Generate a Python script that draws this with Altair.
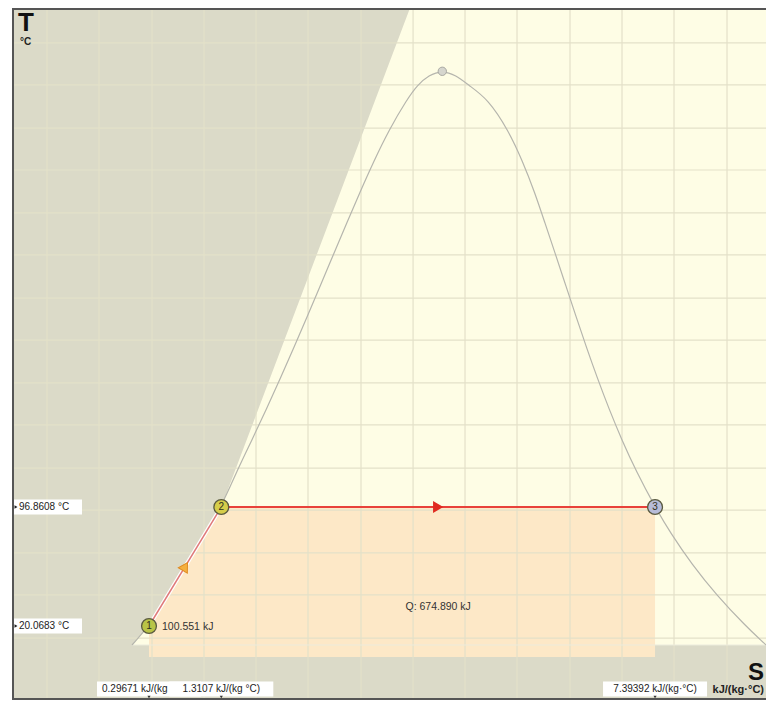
import altair as alt
import pandas as pd

# ---------------- data ----------------
S_MIN, S_MAX = -1.6248, 8.950        # entropy, kJ/(kg.C)
T_MIN, T_MAX = -27.68, 418.85        # temperature, C

# state points of the process
state_names = ["1", "2", "3"]
state_s = [0.29671, 1.3107, 7.39392]
state_T = [20.0683, 96.8608, 96.8608]
T_base = 0.0                          # bottom of the heat area

# critical point
crit_s = [4.41]
crit_T = [378.0]

# saturation dome (liquid branch up, vapour branch down)
dome_s = [0.0583, 0.2967, 0.5724, 0.8313, 1.0753, 1.3107, 1.5279, 1.7392, 1.9426,
          2.1392, 2.3305, 2.5177, 2.7020, 2.8849, 3.0685, 3.2552, 3.4494, 3.6601,
          3.9167, 4.06, 4.22, 4.41, 4.60, 4.78, 5.0536,
          5.3356, 5.5362, 5.7059, 5.8509, 5.9965, 6.1401, 6.2840, 6.4302, 6.5850,
          6.7491, 6.9293, 7.1291, 7.39392, 7.6111, 7.9082, 8.2555, 8.666, 8.90, 8.95]
dome_T = [7.81, 20.07, 40, 60, 80, 96.86, 120, 140, 160,
          180, 200, 220, 240, 260, 280, 300, 320, 340,
          360, 369, 375.5, 378.5, 375.5, 369, 360,
          340, 320, 300, 280, 260, 240, 220, 200, 180,
          160, 140, 120, 96.86, 80, 60, 40, 20, 10, 7.81]

# left edge of the light region
edge_s = [0.0583, 0.29671, 1.3107, 3.9573]
edge_T = [7.81, 20.0683, 96.8608, 418.85]
floor_T = 7.81

# grid
grid_s = [-1.1339, -0.4046, 0.3388, 1.0681, 1.7974, 2.5267, 3.27, 4.0, 4.7287,
          5.458, 6.2013, 6.9306, 7.66, 8.4033]
grid_T = [396.3, 369.2, 341.4, 314.3, 286.6, 259.5, 231.7, 204.6, 176.9, 149.8,
          122.0, 94.9, 67.2, 40.1, 12.3]

# texts
q_total = "Q: 674.890 kJ"
q_total_T = 32.3
q12 = "100.551 kJ"
y_labels = ["96.8608 °C", "20.0683 °C"]
x_labels = ["0.29671 kJ/(kg °C)", "1.3107 kJ/(kg °C)", "7.39392 kJ/(kg·°C)"]
x_unit = "kJ/(kg·°C)"

# ---------------- styles ----------------
GRAY = "#dbdac8"
CREAM = "#fefde5"
PEACH = "#fde8c7"
GRID = "#e3e1c9"
FONT = "Liberation Sans"
W, H = 754, 692

xs = alt.Scale(domain=[S_MIN, S_MAX], nice=False, zero=False)
ys = alt.Scale(domain=[T_MIN, T_MAX], nice=False, zero=False)


def X(f="s"):
    return alt.X(f"{f}:Q", scale=xs, axis=None)


def Y(f="T"):
    return alt.Y(f"{f}:Q", scale=ys, axis=None)


states = pd.DataFrame({"name": state_names, "s": state_s, "T": state_T})

cream = alt.Chart(pd.DataFrame({"s": edge_s, "T": edge_T, "s2": [S_MAX] * len(edge_s)})).mark_area(
    orient="horizontal", color=CREAM).encode(y=Y(), x=X(), x2="s2:Q")

heat = alt.Chart(states.assign(T0=T_base)).mark_area(color=PEACH).encode(
    x=X(), y=Y(), y2="T0:Q")

vgrid = alt.Chart(pd.DataFrame({"s": grid_s})).mark_rule(color=GRID, strokeWidth=1.2).encode(x=X())
hgrid = alt.Chart(pd.DataFrame({"T": grid_T})).mark_rule(color=GRID, strokeWidth=1.2).encode(y=Y())

floor = alt.Chart(pd.DataFrame({"s": [edge_s[0]], "s2": [S_MAX], "T": [floor_T]})).mark_rule(
    color="#ecebdc", strokeWidth=1).encode(x=X(), x2="s2:Q", y=Y())

dome = alt.Chart(pd.DataFrame({"s": dome_s, "T": dome_T, "i": range(len(dome_s))})).mark_line(
    color="#b5b5ad", strokeWidth=1.2, interpolate="basis").encode(x=X(), y=Y(), order="i:O")

seg12 = states.iloc[0:2].assign(i=[0, 1])
seg23 = states.iloc[1:3].assign(i=[0, 1])
line12_bg = alt.Chart(seg12).mark_line(color="#ffffff", strokeWidth=4).encode(x=X(), y=Y(), order="i:O")
line12 = alt.Chart(seg12).mark_line(color="#e07a7a", strokeWidth=1.5).encode(x=X(), y=Y(), order="i:O")
line23 = alt.Chart(seg23).mark_line(color="#e8413a", strokeWidth=2.2).encode(x=X(), y=Y(), order="i:O")

mid23 = pd.DataFrame({"s": [(state_s[1] + state_s[2]) / 2], "T": [state_T[1]]})
mid12 = pd.DataFrame({"s": [(state_s[0] + state_s[1]) / 2], "T": [(state_T[0] + state_T[1]) / 2]})
arrow23 = alt.Chart(mid23).mark_point(shape="triangle-right", filled=True, color="#e02a20",
                                      size=140, opacity=1).encode(x=X(), y=Y())
arrow12 = alt.Chart(mid12).mark_point(shape="triangle-up", filled=True, fill="#f4b040",
                                      stroke="#e08a20", strokeWidth=1, angle=31,
                                      size=110, opacity=1).encode(x=X(), y=Y())

circles = alt.Chart(states).mark_circle(size=220, stroke="#5a5a40", strokeWidth=1.3, opacity=1).encode(
    x=X(), y=Y(),
    fill=alt.Fill("name:N", scale=alt.Scale(domain=state_names,
                                            range=["#b9c446", "#d6cd4a", "#b7bcd9"]), legend=None))
circle_txt = alt.Chart(states).mark_text(font=FONT, fontSize=10, color="#303020").encode(
    x=X(), y=Y(), text="name:N")

crit = alt.Chart(pd.DataFrame({"s": crit_s, "T": crit_T})).mark_circle(
    size=70, fill="#d6d6ce", stroke="#a9a9a2", strokeWidth=1, opacity=1).encode(x=X(), y=Y())

qtxt = alt.Chart(pd.DataFrame({"s": [(state_s[1] + state_s[2]) / 2], "T": [q_total_T], "t": [q_total]})).mark_text(
    font=FONT, fontSize=10.5, color="#333333").encode(x=X(), y=Y(), text="t:N")
q12txt = alt.Chart(pd.DataFrame({"s": [state_s[0]], "T": [state_T[0]], "t": [q12]})).mark_text(
    font=FONT, fontSize=10.5, color="#333333", align="left", dx=13, dy=1).encode(x=X(), y=Y(), text="t:N")

# y-value labels on the left
ylab_df = pd.DataFrame({"T": [state_T[1], state_T[0]], "t": y_labels})
ylab_box = alt.Chart(ylab_df).mark_rect(color="#ffffff", height=15).encode(
    x=alt.value(2), x2=alt.value(70), y=Y())
ylab_txt = alt.Chart(ylab_df).mark_text(font=FONT, fontSize=10, color="#222222", align="left").encode(
    x=alt.value(7), y=Y(), text="t:N")
ylab_mark = alt.Chart(ylab_df).mark_point(shape="triangle-right", filled=True, color="#222222",
                                          size=12, opacity=1).encode(x=alt.value(4), y=Y())

# s-value labels at the bottom (the second label box covers the end of the first one)
xlab_df = pd.DataFrame({"s": state_s, "t": x_labels, "i": [0, 1, 2]})
xlab_layers = []
for k in range(3):
    d = xlab_df.iloc[[k]]
    xlab_layers.append(alt.Chart(d).mark_rect(color="#ffffff", width=104, height=15).encode(
        x=X(), y=alt.value(681)))
    if k == 0:
        xlab_layers.append(alt.Chart(d).mark_text(
            font=FONT, fontSize=10, color="#222222", align="left", dx=-47,
            limit=70, ellipsis=" ").encode(x=X(), y=alt.value(681), text="t:N"))
    else:
        xlab_layers.append(alt.Chart(d).mark_text(font=FONT, fontSize=10, color="#222222").encode(
            x=X(), y=alt.value(681), text="t:N"))
xlab_mark = alt.Chart(xlab_df).mark_point(shape="triangle-down", filled=True, color="#333333",
                                          size=10, opacity=1).encode(x=X(), y=alt.value(689))
unit_txt = alt.Chart(pd.DataFrame({"t": [x_unit]})).mark_text(
    font=FONT, fontSize=11, fontWeight="bold", color="#222222", align="right").encode(
    x=alt.value(W - 2), y=alt.value(682), text="t:N")

t_axis = alt.Chart(pd.DataFrame({"t": ["T"]})).mark_text(
    font=FONT, fontSize=26, fontWeight="bold", color="#111111", align="left").encode(
    x=alt.value(6), y=alt.value(15), text="t:N")
t_unit = alt.Chart(pd.DataFrame({"t": ["°C"]})).mark_text(
    font=FONT, fontSize=10, fontWeight="bold", color="#222222", align="left").encode(
    x=alt.value(8), y=alt.value(34), text="t:N")
s_axis = alt.Chart(pd.DataFrame({"t": ["S"]})).mark_text(
    font=FONT, fontSize=24, fontWeight="bold", color="#111111", align="right").encode(
    x=alt.value(W - 2), y=alt.value(665), text="t:N")

frame_l = alt.Chart(pd.DataFrame({"a": [0]})).mark_rule(color="#555555", strokeWidth=2).encode(
    x=alt.value(1), y=alt.value(0), y2=alt.value(H))
frame_t = alt.Chart(pd.DataFrame({"a": [0]})).mark_rule(color="#555555", strokeWidth=2).encode(
    x=alt.value(0), x2=alt.value(W), y=alt.value(1))
frame_b = alt.Chart(pd.DataFrame({"a": [0]})).mark_rule(color="#555555", strokeWidth=2).encode(
    x=alt.value(0), x2=alt.value(W), y=alt.value(H - 1))

chart = alt.layer(
    cream, heat, vgrid, hgrid, floor, dome, line12_bg, line12, line23, arrow23, arrow12,
    crit, circles, circle_txt, qtxt, q12txt, ylab_box, ylab_mark, ylab_txt,
    *xlab_layers, unit_txt, frame_l, frame_t, frame_b, xlab_mark, t_axis, t_unit, s_axis
).properties(
    width=W, height=H, autosize="none",
    padding={"left": 4, "top": 0, "right": 0, "bottom": 0}
).configure_view(fill=GRAY, stroke=None)

chart.save("out.html", embed_options={"renderer": "svg", "actions": False})
